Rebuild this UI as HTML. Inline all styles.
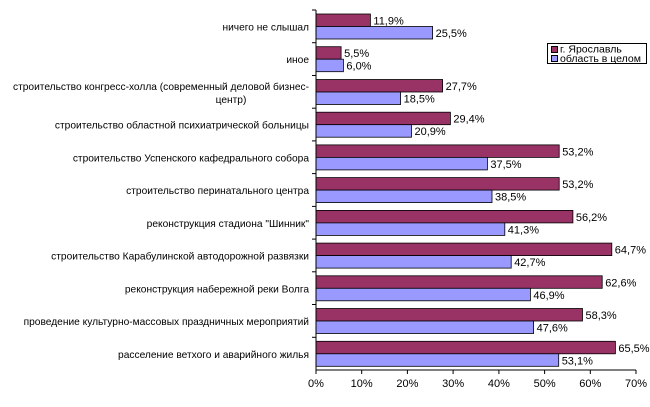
<!DOCTYPE html>
<html><head><meta charset="utf-8"><style>
body{margin:0;background:#fff}
svg text{font-family:"Liberation Sans",Arial,sans-serif;font-size:11px;fill:#000}
.cat text{font-size:10.2px}
.r{fill:#993366;stroke:#000;stroke-width:0.8}
.b{fill:#9999FF;stroke:#000;stroke-width:0.8}
</style></head><body>
<svg width="650" height="402" xmlns="http://www.w3.org/2000/svg">
<g stroke="#000">
<line x1="312" x2="316" y1="10" y2="10"/><line x1="312" x2="316" y1="42.7" y2="42.7"/><line x1="312" x2="316" y1="75.5" y2="75.5"/><line x1="312" x2="316" y1="108.2" y2="108.2"/><line x1="312" x2="316" y1="140.9" y2="140.9"/><line x1="312" x2="316" y1="173.6" y2="173.6"/><line x1="312" x2="316" y1="206.4" y2="206.4"/><line x1="312" x2="316" y1="239.1" y2="239.1"/><line x1="312" x2="316" y1="271.8" y2="271.8"/><line x1="312" x2="316" y1="304.5" y2="304.5"/><line x1="312" x2="316" y1="337.3" y2="337.3"/>
<line x1="316" x2="316" y1="370" y2="374"/><line x1="361.7" x2="361.7" y1="370" y2="374"/><line x1="407.4" x2="407.4" y1="370" y2="374"/><line x1="453.1" x2="453.1" y1="370" y2="374"/><line x1="498.9" x2="498.9" y1="370" y2="374"/><line x1="544.6" x2="544.6" y1="370" y2="374"/><line x1="590.3" x2="590.3" y1="370" y2="374"/><line x1="636" x2="636" y1="370" y2="374"/>
</g>
<g text-anchor="middle">
<text x="316" y="387">0%</text><text x="361.7" y="387">10%</text><text x="407.4" y="387">20%</text><text x="453.1" y="387">30%</text><text x="498.9" y="387">40%</text><text x="544.6" y="387">50%</text><text x="590.3" y="387">60%</text><text x="636" y="387">70%</text>
</g>

<rect class="r" x="316" y="14" width="54.4" height="12.5"/><rect class="b" x="316" y="26.5" width="116.6" height="12.5"/>
<rect class="r" x="316" y="46.7" width="25.1" height="12.5"/><rect class="b" x="316" y="59.2" width="27.4" height="12.5"/>
<rect class="r" x="316" y="79.5" width="126.6" height="12.5"/><rect class="b" x="316" y="92" width="84.6" height="12.5"/>
<rect class="r" x="316" y="112.2" width="134.4" height="12.5"/><rect class="b" x="316" y="124.7" width="95.5" height="12.5"/>
<rect class="r" x="316" y="144.9" width="243.2" height="12.5"/><rect class="b" x="316" y="157.4" width="171.4" height="12.5"/>
<rect class="r" x="316" y="177.6" width="243.2" height="12.5"/><rect class="b" x="316" y="190.1" width="176" height="12.5"/>
<rect class="r" x="316" y="210.4" width="256.9" height="12.5"/><rect class="b" x="316" y="222.9" width="188.8" height="12.5"/>
<rect class="r" x="316" y="243.1" width="295.8" height="12.5"/><rect class="b" x="316" y="255.6" width="195.2" height="12.5"/>
<rect class="r" x="316" y="275.8" width="286.2" height="12.5"/><rect class="b" x="316" y="288.3" width="214.4" height="12.5"/>
<rect class="r" x="316" y="308.5" width="266.5" height="12.5"/><rect class="b" x="316" y="321" width="217.6" height="12.5"/>
<rect class="r" x="316" y="341.3" width="299.4" height="12.5"/><rect class="b" x="316" y="353.8" width="242.7" height="12.5"/>

<text x="373.4" y="24.5">11,9%</text><text x="435.6" y="37">25,5%</text>
<text x="344.1" y="57.2">5,5%</text><text x="346.4" y="69.7">6,0%</text>
<text x="445.6" y="90">27,7%</text><text x="403.6" y="102.5">18,5%</text>
<text x="453.4" y="122.7">29,4%</text><text x="414.5" y="135.2">20,9%</text>
<text x="562.2" y="155.4">53,2%</text><text x="490.4" y="167.9">37,5%</text>
<text x="562.2" y="188.1">53,2%</text><text x="495" y="200.6">38,5%</text>
<text x="575.9" y="220.9">56,2%</text><text x="507.8" y="233.4">41,3%</text>
<text x="614.8" y="253.6">64,7%</text><text x="514.2" y="266.1">42,7%</text>
<text x="605.2" y="286.3">62,6%</text><text x="533.4" y="298.8">46,9%</text>
<text x="585.5" y="319">58,3%</text><text x="536.6" y="331.5">47,6%</text>
<text x="618.4" y="351.8">65,5%</text><text x="561.7" y="364.3">53,1%</text>

<g class="cat" text-anchor="end">
<text x="309" y="30.5">ничего не слышал</text>
<text x="309" y="63.2">иное</text>
<text x="309" y="90">строительство конгресс-холла (современный деловой бизнес-</text>
<text x="309" y="128.7">строительство областной психиатрической больницы</text>
<text x="309" y="161.4">строительство Успенского кафедрального собора</text>
<text x="309" y="194.1">строительство перинатального центра</text>
<text x="309" y="226.9">реконструкция стадиона "Шинник"</text>
<text x="309" y="259.6">строительство Карабулинской автодорожной развязки</text>
<text x="309" y="292.3">реконструкция набережной реки Волга</text>
<text x="309" y="325">проведение культурно-массовых праздничных мероприятий</text>
<text x="309" y="357.8">расселение ветхого и аварийного жилья</text>
</g>
<g class="cat"><text x="231" y="103" text-anchor="middle">центр)</text></g>

<line x1="316" y1="10" x2="316" y2="370" stroke="#000"/>
<line x1="316" y1="370" x2="636" y2="370" stroke="#000"/>

<rect x="547.5" y="43.5" width="99" height="20" fill="#fff" stroke="#000"/>
<rect x="551.5" y="46.5" width="6" height="6" fill="#993366" stroke="#000"/>
<text x="560" y="52.5" style="font-size:10.5px">г. Ярославль</text>
<rect x="551.5" y="55.5" width="6" height="6" fill="#9999FF" stroke="#000"/>
<text x="560" y="62" style="font-size:10.5px">область в целом</text>
</svg></body></html>
